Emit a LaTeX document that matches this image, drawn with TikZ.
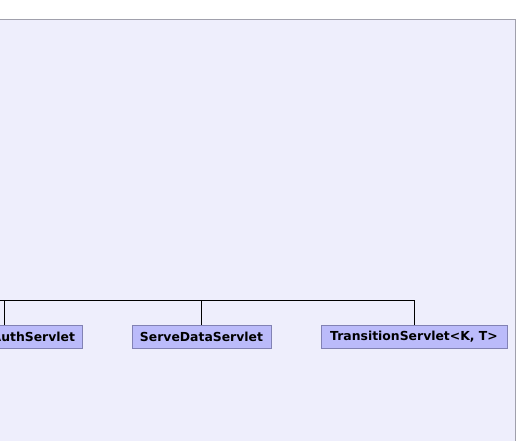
\documentclass[tikz,border=0pt]{standalone}
\usepackage{fontspec}
\setmainfont{DejaVu Sans}
\definecolor{panelfill}{RGB}{238,238,252}
\definecolor{panelline}{RGB}{160,160,172}
\definecolor{boxfill}{RGB}{187,187,250}
\definecolor{boxline}{RGB}{130,130,180}
\tikzset{
  classbox/.style={draw=boxline, fill=boxfill, line width=1bp, inner sep=0pt,
    minimum height=23bp, font=\fontsize{12.4bp}{14bp}\selectfont\bfseries, anchor=center},
  link/.style={draw=black, line width=1bp}
}
\begin{document}
\begin{tikzpicture}[x=1bp,y=-1bp]
\useasboundingbox (0,0) rectangle (518,441);
\fill[white] (0,0) rectangle (518,441);
\draw[panelline, fill=panelfill, line width=1bp] (-10,19.5) -- (515.5,19.5) -- (515.5,450) -- (-10,450);
\node[classbox, minimum width=156bp, text width=142bp, align=right] (auth) at (4,336.5) {AuthServlet};
\node[classbox, minimum width=139bp] (serve) at (201.5,336.5) {ServeDataServlet};
\node[classbox, minimum width=186bp] (trans) at (414,336.5) {TransitionServlet<K, T>};
\coordinate (left) at (-10,300.5);
\coordinate (bus) at (414,300.5);
\draw[link] (left) -- (bus) -- (trans.north);
\draw[link] (auth.north |- bus) -- (auth.north);
\draw[link] (serve.north |- bus) -- (serve.north);
\end{tikzpicture}
\end{document}
